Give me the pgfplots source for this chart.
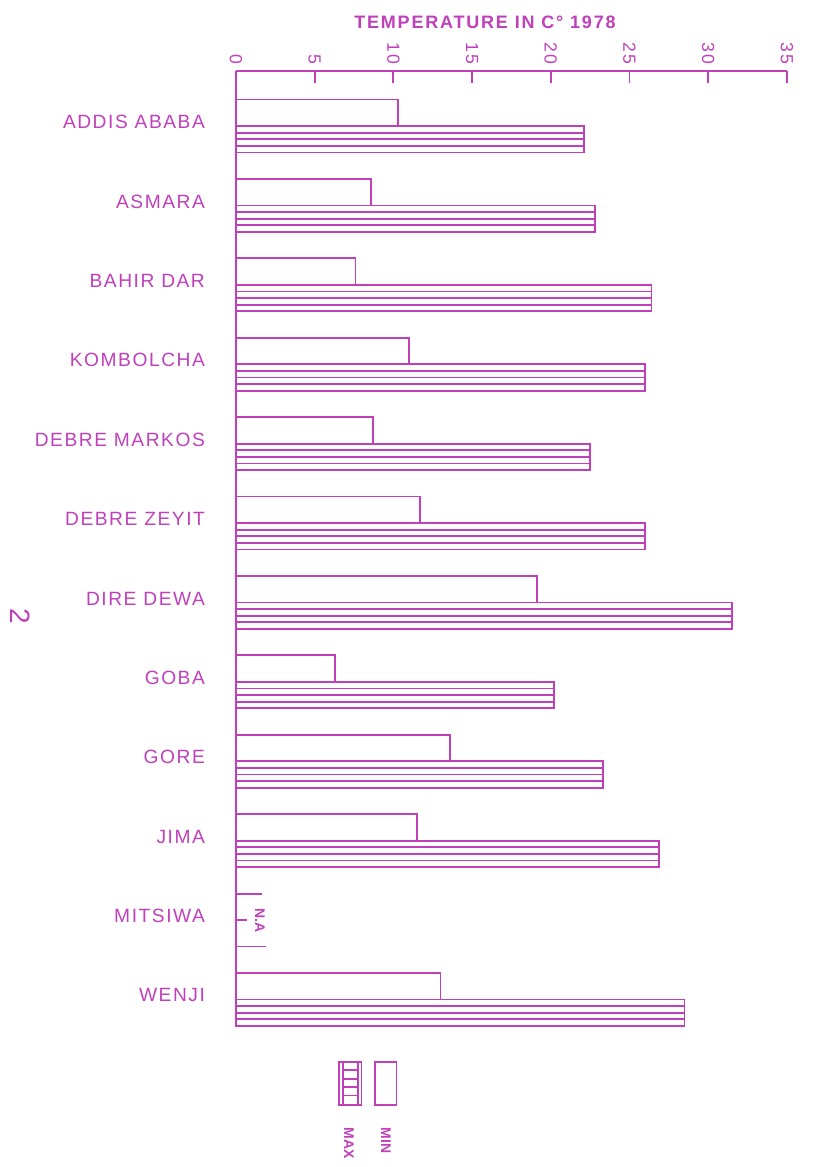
\documentclass[border=0pt]{standalone}
\usepackage{fontspec}
\setmainfont{Liberation Sans}
\newfontfamily\labfont[LetterSpace=8]{Liberation Sans}
\newfontfamily\titfont[LetterSpace=10]{Liberation Sans}
\usepackage{pgfplots}
\usepackage{pgfplotstable}
\pgfplotsset{compat=1.18}
\definecolor{ink}{RGB}{192,64,186}

% minimum / maximum temperature per station, 1978 (Mitsiwa: not available)
\pgfplotstableread{
pos  tmin   tmax
0    10.3   22.1
1    8.6    22.8
2    7.6    26.4
3    11.0   26.0
4    8.7    22.5
5    11.7   26.0
6    19.1   31.5
7    6.3    20.2
8    13.6   23.3
9    11.5   26.9
11   13.0   28.5
}\temps

\begin{document}
\begin{tikzpicture}
\begin{axis}[
  x=7.87pt, y=39.7pt,
  xmin=0, xmax=35, ymin=-11.345, ymax=0.693,
  axis x line*=top, axis y line*=left,
  axis line style={ink, line width=0.9pt},
  xtick={0,5,...,35},
  tick align=inside,
  major tick length=6pt,
  xtick style={ink, line width=0.9pt},
  xticklabel style={rotate=-90, anchor=east, text=ink,
    font=\labfont\fontsize{8.8}{10}\selectfont},
  ytick={-11,-10,...,0},
  yticklabels={WENJI, MITSIWA, JIMA, GORE, GOBA, DIRE DEWA, DEBRE ZEYIT,
    DEBRE MARKOS, KOMBOLCHA, BAHIR DAR, ASMARA, ADDIS ABABA},
  ytick style={draw=none},
  yticklabel style={text=ink, xshift=-12pt, yshift=2pt,
    font=\labfont\fontsize{9.6}{11}\selectfont},
  /pgf/number format/assume math mode=true,
  clip=false,
]
% min bars (empty)
\addplot[xbar, bar width=0.3333, bar shift=0, draw=ink, fill=white, line width=0.9pt]
  table[x=tmin, y expr=-\thisrow{pos}+0.1667] {\temps};
% max bars (outline + lines)
\addplot[xbar, bar width=0.3333, bar shift=0, draw=ink, fill=white, line width=0.9pt]
  table[x=tmax, y expr=-\thisrow{pos}-0.1667] {\temps};
\addplot[xcomb, draw=ink, line width=0.9pt, mark=none]
  table[x=tmax, y expr=-\thisrow{pos}-0.0833] {\temps};
\addplot[xcomb, draw=ink, line width=0.9pt, mark=none]
  table[x=tmax, y expr=-\thisrow{pos}-0.1667] {\temps};
\addplot[xcomb, draw=ink, line width=0.9pt, mark=none]
  table[x=tmax, y expr=-\thisrow{pos}-0.25] {\temps};

% N.A for Mitsiwa
\draw[ink, line width=0.9pt] (axis cs:0,-9.667) -- (axis cs:1.65,-9.667);
\draw[ink, line width=0.9pt] (axis cs:0,-10) -- (axis cs:0.7,-10);
\draw[ink, line width=0.9pt] (axis cs:0,-10.333) -- (axis cs:1.9,-10.333);
\node[rotate=-90, text=ink, font=\bfseries\fontsize{7}{8}\selectfont]
  at (axis cs:1.52,-10.01) {N.A};

% title
\node[text=ink, font=\titfont\bfseries\fontsize{9}{10}\selectfont]
  at (axis cs:15.82,1.31) {TEMPERATURE IN C° 1978};

% page number
\node[rotate=-90, text=ink, font=\fontsize{14}{16}\selectfont]
  at (axis cs:-13.72,-6.18) {2};

% legend
\draw[ink, line width=0.8pt] (axis cs:6.56,-11.785) rectangle (axis cs:7.98,-12.33);
\draw[ink, line width=0.8pt] (axis cs:6.8,-11.785) -- (axis cs:6.8,-12.33);
\draw[ink, line width=0.8pt] (axis cs:7.75,-11.785) -- (axis cs:7.75,-12.33);
\draw[ink, line width=0.8pt] (axis cs:6.8,-11.89) -- (axis cs:7.75,-11.89);
\draw[ink, line width=0.8pt] (axis cs:6.8,-12.0) -- (axis cs:7.75,-12.0);
\draw[ink, line width=0.8pt] (axis cs:6.8,-12.1) -- (axis cs:7.75,-12.1);
\draw[ink, line width=0.8pt] (axis cs:6.8,-12.21) -- (axis cs:7.75,-12.21);
\draw[ink, line width=0.8pt] (axis cs:8.83,-11.785) rectangle (axis cs:10.21,-12.33);
\node[rotate=-90, text=ink, font=\bfseries\fontsize{7}{8}\selectfont]
  at (axis cs:7.18,-12.81) {MAX};
\node[rotate=-90, text=ink, font=\bfseries\fontsize{7}{8}\selectfont]
  at (axis cs:9.53,-12.78) {MIN};

\coordinate (bbA) at (axis cs:-14.99,1.587);
\coordinate (bbB) at (axis cs:37.04,-13.11);
\end{axis}
\pgfresetboundingbox
\path (bbA) rectangle (bbB);
\end{tikzpicture}
\end{document}
